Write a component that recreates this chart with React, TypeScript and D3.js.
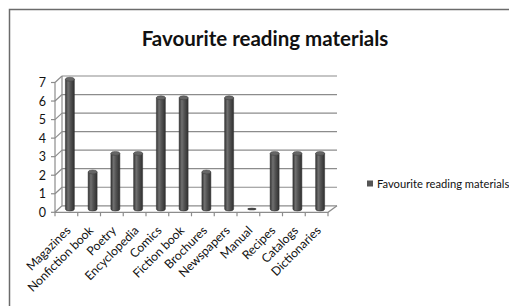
import { useEffect, useRef } from 'react'
import * as d3 from 'd3'

const categories = [
  'Magazines', 'Nonfiction book', 'Poetry', 'Encyclopedia', 'Comics', 'Fiction book',
  'Brochures', 'Newspapers', 'Manual', 'Recipes', 'Catalogs', 'Dictionaries',
]
const values = [7, 2, 3, 3, 6, 6, 2, 6, 0, 3, 3, 3]
const yTicks = [0, 1, 2, 3, 4, 5, 6, 7]
const seriesName = 'Favourite reading materials'
const chartTitle = 'Favourite reading materials'

const W = 509
const H = 306

export default function App() {
  const svgRef = useRef<SVGSVGElement>(null)

  useEffect(() => {
    if (!svgRef.current) return
    const svg = d3.select(svgRef.current)
    svg.selectAll('*').remove()

    const font = 'Lato, "Open Sans", sans-serif'
    // depth offset of the 3D box
    const dx = 7
    const dy = -6.5

    const x = d3.scaleBand<string>().domain(categories).range([55, 328])
    const y = d3.scaleLinear().domain([0, 7]).range([212.3, 82.5])

    // frame
    svg.append('path')
      .attr('d', `M9.5,${H} V9.5 H${W}`)
      .attr('fill', 'none')
      .attr('stroke', '#6b6b6b')
      .attr('stroke-width', 1.5)

    // title
    svg.append('text')
      .attr('x', 265)
      .attr('y', 46)
      .attr('text-anchor', 'middle')
      .style('font-family', font)
      .style('font-weight', 'bold')
      .style('font-size', '20.5px')
      .attr('fill', '#111')
      .text(chartTitle)

    const grid = svg.append('g')
      .attr('stroke', '#8c8c8c')
      .attr('stroke-width', 1.2)
      .attr('fill', 'none')

    // back wall gridlines + side wall diagonals
    yTicks.forEach(t => {
      const yb = y(t) + dy
      grid.append('line')
        .attr('x1', 55 + dx).attr('x2', 328 + dx + 2)
        .attr('y1', yb).attr('y2', yb)
      grid.append('line')
        .attr('x1', 55).attr('x2', 55 + dx)
        .attr('y1', y(t)).attr('y2', yb)
      // y axis ticks
      grid.append('line')
        .attr('x1', 51).attr('x2', 55)
        .attr('y1', y(t)).attr('y2', y(t))
    })

    // walls
    grid.append('line')
      .attr('x1', 55 + dx).attr('x2', 55 + dx)
      .attr('y1', y(7) + dy).attr('y2', y(0) + dy)
    grid.append('line')
      .attr('x1', 55).attr('x2', 55)
      .attr('y1', y(7)).attr('y2', y(0))
    // floor
    grid.append('path')
      .attr('d', `M55,${y(0)} L328,${y(0)} L${328 + dx + 2},${y(0) + dy}`)

    // category ticks
    const bounds = [...categories.map(c => x(c)!), 328]
    bounds.forEach(b => {
      grid.append('line')
        .attr('x1', b).attr('x2', b)
        .attr('y1', y(0)).attr('y2', y(0) + 4)
    })

    // cylinder gradient
    const defs = svg.append('defs')
    const grad = defs.append('linearGradient')
      .attr('id', 'cyl')
      .attr('x1', '0%').attr('x2', '100%')
    grad.append('stop').attr('offset', '0%').attr('stop-color', '#343434')
    grad.append('stop').attr('offset', '30%').attr('stop-color', '#707070')
    grad.append('stop').attr('offset', '55%').attr('stop-color', '#555')
    grad.append('stop').attr('offset', '100%').attr('stop-color', '#2f2f2f')

    const bw = 9
    const ry = 2
    const bars = svg.append('g')
    categories.forEach((c, i) => {
      const cx = x(c)! + x.bandwidth() / 2 + dx / 2
      const y0 = y(0) + dy / 2
      const y1 = y(values[i]) + dy / 2
      const g = bars.append('g')
      if (values[i] > 0) {
        g.append('path')
          .attr('d', `M${cx - bw / 2},${y1} V${y0} A${bw / 2},${ry} 0 0 0 ${cx + bw / 2},${y0} V${y1} Z`)
          .attr('fill', 'url(#cyl)')
          .attr('stroke', '#333')
          .attr('stroke-width', 0.5)
        g.append('ellipse')
          .attr('cx', cx).attr('cy', y1)
          .attr('rx', bw / 2).attr('ry', ry)
          .attr('fill', '#666')
          .attr('stroke', '#3a3a3a')
          .attr('stroke-width', 0.5)
      } else {
        g.append('ellipse')
          .attr('cx', cx).attr('cy', y0)
          .attr('rx', bw / 2).attr('ry', 1.2)
          .attr('fill', '#444')
      }
    })

    // y tick labels
    svg.append('g')
      .selectAll('text')
      .data(yTicks)
      .join('text')
      .attr('x', 46)
      .attr('y', d => y(d) + 4.5)
      .attr('text-anchor', 'end')
      .style('font-family', font)
      .style('font-size', '12.5px')
      .attr('fill', '#111')
      .text(d => d)

    // category labels
    svg.append('g')
      .selectAll('text')
      .data(categories)
      .join('text')
      .attr('transform', d => `translate(${x(d)! + x.bandwidth() / 2 + 5},${y(0) + 19}) rotate(-45)`)
      .attr('text-anchor', 'end')
      .style('font-family', font)
      .style('font-size', '12.2px')
      .attr('fill', '#111')
      .text(d => d)

    // legend
    const lg = svg.append('g').attr('transform', 'translate(367,180.5)')
    lg.append('rect')
      .attr('width', 6).attr('height', 6)
      .attr('fill', '#555')
    lg.append('text')
      .attr('x', 10).attr('y', 7)
      .style('font-family', font)
      .style('font-size', '11.2px')
      .attr('fill', '#111')
      .text(seriesName)
  }, [])

  return (
    <svg
      ref={svgRef}
      width={W}
      height={H}
      style={{ position: 'absolute', left: 0, top: 0, background: '#fff' }}
    />
  )
}
